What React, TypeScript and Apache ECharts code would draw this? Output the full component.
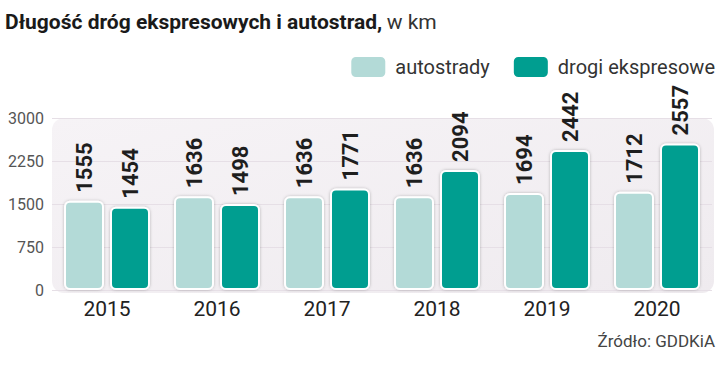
import React, { useEffect, useRef } from "react";
import * as echarts from "echarts";

const years = ["2015", "2016", "2017", "2018", "2019", "2020"];
const autostrady = [1555, 1636, 1636, 1636, 1694, 1712];
const drogiEkspresowe = [1454, 1498, 1771, 2094, 2442, 2557];
const yTicks = [0, 750, 1500, 2250, 3000];

const FONT = "Roboto, 'Noto Sans', sans-serif";

export default function App() {
  const ref = useRef<HTMLDivElement>(null);
  useEffect(() => {
    document.body.style.margin = "0";
    const chart = echarts.init(ref.current!, undefined, { renderer: "svg" });
    const label = {
      show: true,
      position: "top",
      rotate: 90,
      align: "left",
      verticalAlign: "middle",
      distance: 8,
      fontFamily: FONT,
      fontWeight: "bold",
      fontSize: 22,
      color: "#1e1e1e",
    };
    const barStyle = (c: string) => ({
      color: c,
      borderColor: "#ffffff",
      borderWidth: 2,
      borderRadius: 5,
      shadowBlur: 3,
      shadowColor: "rgba(0,0,0,0.25)",
    });
    chart.setOption({
      animation: false,
      textStyle: { fontFamily: FONT },
      title: {
        text: "{b|Długość dróg ekspresowych i autostrad,} {r|w km}",
        left: 0,
        top: 6,
        textStyle: {
          rich: {
            b: { fontFamily: FONT, fontWeight: "bold", fontSize: 21, color: "#1a1a1a" },
            r: { fontFamily: FONT, fontWeight: "normal", fontSize: 21, color: "#333" },
          },
        },
      },
      graphic: [
        {
          type: "rect",
          z: -10,
          shape: { x: 52, y: 118, width: 662, height: 175, r: 12 },
          style: {
            fill: new echarts.graphic.LinearGradient(0, 0, 1, 1, [
              { offset: 0, color: "#f6f3f6" },
              { offset: 1, color: "#efebef" },
            ]),
          },
        },
        {
          type: "text",
          right: 5,
          top: 332,
          style: {
            text: "Źródło: GDDKiA",
            fontFamily: FONT,
            fontSize: 17,
            fill: "#444",
          },
        },
      ],
      legend: {
        right: 0,
        top: 50,
        itemWidth: 36,
        itemHeight: 22,
        itemGap: 22,
        icon: "roundRect",
        textStyle: { fontFamily: FONT, fontSize: 20, color: "#333", padding: [0, 0, 0, 4] },
        data: ["autostrady", "drogi ekspresowe"],
      },
      grid: { left: 52, right: 8, top: 118, bottom: 76 },
      xAxis: {
        type: "category",
        data: years,
        axisLine: { show: false },
        axisTick: { show: false },
        axisLabel: {
          fontFamily: FONT,
          fontSize: 21,
          fontWeight: "normal",
          color: "#222",
          margin: 8,
        },
      },
      yAxis: {
        type: "value",
        min: yTicks[0],
        max: yTicks[yTicks.length - 1],
        interval: 750,
        axisLine: { show: false },
        axisTick: { show: false },
        axisLabel: {
          fontFamily: FONT,
          fontSize: 16,
          color: "#555",
          margin: 8,
          formatter: (v: number) => String(v),
        },
        splitLine: { lineStyle: { color: "#e6dfe6", width: 1 } },
      },
      series: [
        {
          name: "autostrady",
          type: "bar",
          data: autostrady,
          barWidth: 40,
          barGap: "15%",
          itemStyle: barStyle("#b3dad7"),
          label,
        },
        {
          name: "drogi ekspresowe",
          type: "bar",
          data: drogiEkspresowe,
          barWidth: 40,
          itemStyle: barStyle("#009e90"),
          label,
        },
      ],
    });
    return () => chart.dispose();
  }, []);
  return <div ref={ref} style={{ width: 720, height: 366 }} />;
}
